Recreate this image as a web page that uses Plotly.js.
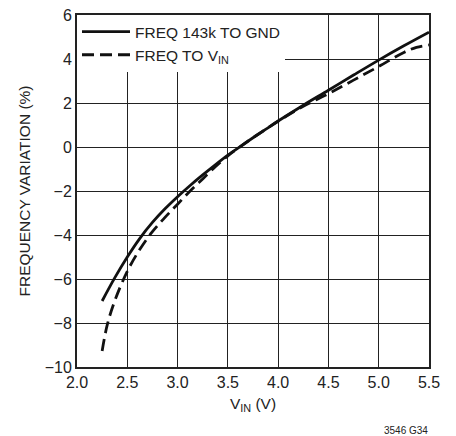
<!DOCTYPE html>
<html><head><meta charset="utf-8">
<script src="https://cdn.plot.ly/plotly-3.0.1.min.js"></script>
<style>body{margin:0;background:#fff}#c{width:456px;height:436px}</style>
</head><body><div id="c"></div>
<script>
const vinSolid = [2.25, 2.375, 2.5, 2.625, 2.75, 2.875, 3.0, 3.125, 3.25, 3.375, 3.5, 3.625, 3.75, 3.875, 4.0, 4.25, 4.5, 4.75, 5.0, 5.25, 5.5];
const freqGnd  = [-7.0, -5.95, -5.0, -4.15, -3.43, -2.81, -2.26, -1.75, -1.27, -0.81, -0.37, 0.03, 0.42, 0.8, 1.18, 1.9, 2.58, 3.27, 3.95, 4.6, 5.22];
const vinDash  = [2.25, 2.3, 2.375, 2.5, 2.625, 2.75, 2.875, 3.0, 3.125, 3.25, 3.375, 3.5, 3.625, 3.75, 3.875, 4.0, 4.25, 4.5, 4.75, 5.0, 5.25, 5.375, 5.5];
const freqVin  = [-9.27, -8.1, -7.0, -5.65, -4.65, -3.85, -3.2, -2.6, -2.0, -1.45, -0.9, -0.4, 0.02, 0.42, 0.8, 1.17, 1.85, 2.42, 3.04, 3.66, 4.3, 4.53, 4.64];
const xTicks = [2.0, 2.5, 3.0, 3.5, 4.0, 4.5, 5.0, 5.5];
const xTickText = ["2.0","2.5","3.0","3.5","4.0","4.5","5.0","5.5"];
const yTicks = [-10, -8, -6, -4, -2, 0, 2, 4, 6];
const yTickText = ["\u221210","\u22128","\u22126","\u22124","\u22122","0","2","4","6"];

const FONT = "'Liberation Sans', Arial, sans-serif";

const data = [
  {x: vinSolid, y: freqGnd, mode: 'lines', name: 'FREQ 143k TO GND',
   line: {color: '#111', width: 2.8, shape: 'spline', smoothing: 1}},
  {x: vinDash, y: freqVin, mode: 'lines', name: 'FREQ TO V<sub>IN</sub>',
   line: {color: '#111', width: 2.8, shape: 'spline', smoothing: 1, dash: '12px,6px'}}
];
const layout = {
  width: 456, height: 436,
  margin: {l: 77, r: 27, t: 15, b: 69},
  paper_bgcolor: '#fff', plot_bgcolor: '#fff',
  font: {family: FONT, color: '#222', size: 16},
  showlegend: true,
  legend: {x: 0, y: 1, xanchor: 'left', yanchor: 'top', bgcolor: '#fff',
           font: {family: FONT, size: 15.5, color: '#222'}, tracegroupgap: 0,
           itemwidth: 48},
  xaxis: {range: [2.0, 5.5], tickvals: xTicks, ticktext: xTickText,
          showgrid: true, gridcolor: '#222', gridwidth: 1,
          showline: true, linecolor: '#222', linewidth: 2, mirror: true,
          ticks: '', zeroline: false, tickfont: {size: 16},
          title: {text: 'V<sub>IN</sub> (V)', font: {size: 15.5}, standoff: 8}},
  yaxis: {range: [-10, 6], tickvals: yTicks, ticktext: yTickText,
          showgrid: true, gridcolor: '#222', gridwidth: 1,
          showline: true, linecolor: '#222', linewidth: 2, mirror: true,
          ticks: '', zeroline: false, tickfont: {size: 16},
          title: {text: 'FREQUENCY VARIATION (%)', font: {size: 15.5}, standoff: 10}},
  annotations: [{text: '3546 G34', xref: 'paper', yref: 'paper', x: 1.003, y: -0.179,
                 xanchor: 'right', yanchor: 'middle', showarrow: false,
                 font: {family: FONT, size: 10, color: '#222'}}]
};
Plotly.newPlot('c', data, layout, {displayModeBar: false, staticPlot: true});
</script></body></html>
